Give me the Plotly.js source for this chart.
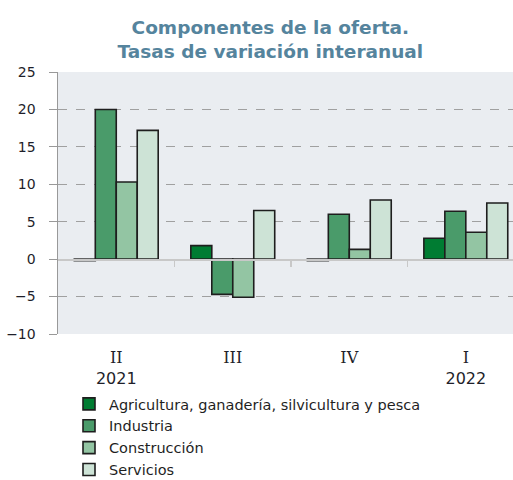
<!DOCTYPE html>
<html><head><meta charset="utf-8">
<script src="https://cdn.plot.ly/plotly-3.0.1.min.js"></script>
<style>html,body{margin:0;padding:0;background:#fff}#chart{width:513px;height:480px}</style>
</head><body><div id="chart"></div>
<script>
const categories = ["<span style='font-family:DejaVu Serif'>II</span><br>2021", "<span style='font-family:DejaVu Serif'>III</span>", "<span style='font-family:DejaVu Serif'>IV</span>", "<span style='font-family:DejaVu Serif'>I</span><br>2022"];
const seriesNames = ["Agricultura, ganadería, silvicultura y pesca", "Industria", "Construcción", "Servicios"];
const agricultura = [-0.2, 1.8, -0.2, 2.8];
const industria = [20.0, -4.7, 6.0, 6.4];
const construccion = [10.3, -5.1, 1.3, 3.6];
const servicios = [17.2, 6.5, 7.9, 7.5];
const yTicks = [-10, -5, 0, 5, 10, 15, 20, 25];

const colors = ["#007c32", "#4a9b6a", "#93c5a3", "#cde3d6"];
const values = [agricultura, industria, construccion, servicios];
const font = "DejaVu Sans, sans-serif";

const traces = values.map((v, i) => ({
  type: "bar", name: seriesNames[i], x: [0,1,2,3], y: v,
  marker: {color: colors[i], line: {color: "#1e1e1e", width: 1.6}},
  hoverinfo: "skip"
}));
traces.push({type: "scatter", x: [], y: [], xaxis: "x2", showlegend: false});

const layout = {
  width: 513, height: 480,
  margin: {l: 58, r: 0, t: 72, b: 146, autoexpand: false},
  paper_bgcolor: "#ffffff", plot_bgcolor: "#eaedf1",
  barmode: "group", bargap: 0.28, bargroupgap: 0,
  title: {text: "<b>Componentes de la oferta.<br>Tasas de variación interanual</b>",
    font: {family: font, size: 18.5, color: "#55849d"},
    x: 0.527, xanchor: "center", y: 0.93, yanchor: "top"},
  font: {family: font, size: 14, color: "#1f1f2a"},
  xaxis: {range: [-0.5, 3.405], tickvals: [0,1,2,3], ticktext: categories, automargin: false,
    showgrid: false, zeroline: false, showline: false, ticks: "outside", ticklen: 9, tickcolor: "rgba(0,0,0,0)", fixedrange: true,
    tickfont: {family: font, size: 16, color: "#1f1f2a"}},
  xaxis2: {overlaying: "x", anchor: "free", position: 10/35, range: [-0.5, 3.405],
    tickvals: [0.5, 1.5, 2.5], ticks: "outside", ticklen: 6, tickcolor: "#c8c8c8", tickwidth: 1.5,
    showticklabels: false, showgrid: false, zeroline: false, showline: true, linecolor: "#c8c8c8", linewidth: 1.5},
  yaxis: {range: [-10, 25], tickvals: yTicks, ticks: "outside", ticklen: 8, tickcolor: "#999", automargin: false,
    ticklabelstandoff: 10,
    showline: true, linecolor: "#999", linewidth: 1.5, gridcolor: "#a0a0a0", griddash: "dash",
    zeroline: false, fixedrange: true, tickfont: {size: 14, color: "#1f1f2a"}},
  legend: {orientation: "v", xref: "container", yref: "container", x: 69/513, xanchor: "left", y: 1 - 388/480, yanchor: "top",
    font: {size: 14.5, color: "#1f1f1f"}, itemwidth: 30, tracegroupgap: 0, bgcolor: "rgba(0,0,0,0)"},
  showlegend: true
};
Plotly.newPlot("chart", traces, layout, {displayModeBar: false, staticPlot: true});
</script></body></html>
